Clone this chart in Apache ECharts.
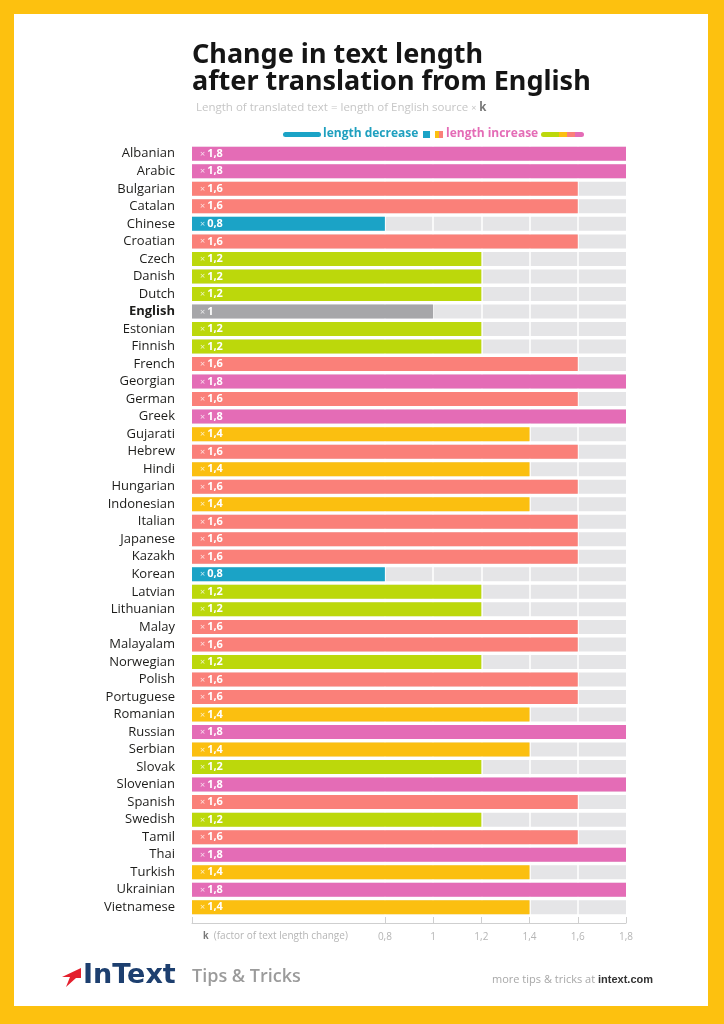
<!DOCTYPE html>
<html>
<head>
<meta charset="utf-8">
<script src="https://cdn.jsdelivr.net/npm/echarts@6/dist/echarts.min.js"></script>
<style>
  html, body { margin: 0; padding: 0; }
  #main { width: 724px; height: 1024px; }
</style>
</head>
<body>
<div id="main"></div>
<script>
// languages, top to bottom
const languages = ['Albanian', 'Arabic', 'Bulgarian', 'Catalan', 'Chinese', 'Croatian', 'Czech', 'Danish', 'Dutch', 'English',
    'Estonian', 'Finnish', 'French', 'Georgian', 'German', 'Greek', 'Gujarati', 'Hebrew', 'Hindi', 'Hungarian',
    'Indonesian', 'Italian', 'Japanese', 'Kazakh', 'Korean', 'Latvian', 'Lithuanian', 'Malay', 'Malayalam', 'Norwegian',
    'Polish', 'Portuguese', 'Romanian', 'Russian', 'Serbian', 'Slovak', 'Slovenian', 'Spanish', 'Swedish', 'Tamil',
    'Thai', 'Turkish', 'Ukrainian', 'Vietnamese'];
// factor k
const factors = [1.8, 1.8, 1.6, 1.6, 0.8, 1.6, 1.2, 1.2, 1.2, 1,
    1.2, 1.2, 1.6, 1.8, 1.6, 1.8, 1.4, 1.6, 1.4, 1.6,
    1.4, 1.6, 1.6, 1.6, 0.8, 1.2, 1.2, 1.6, 1.6, 1.2,
    1.6, 1.6, 1.4, 1.8, 1.4, 1.2, 1.8, 1.6, 1.2, 1.6,
    1.8, 1.4, 1.8, 1.4];
const tickValues = [0, 0.8, 1, 1.2, 1.4, 1.6, 1.8];
const labelValues = [0.8, 1, 1.2, 1.4, 1.6, 1.8];
const axisMax = 1.8;

const colorByFactor = {
    '0.8': '#1ba3c6',
    '1': '#a6a6a9',
    '1.2': '#bcd80b',
    '1.4': '#fbbf10',
    '1.6': '#fa8079',
    '1.8': '#e46cb6'
};
const FONT = '"Open Sans", "Noto Sans", sans-serif';

const fmt = v => String(v).replace('.', ',');

const chart = echarts.init(document.getElementById('main'));

const option = {
    backgroundColor: '#fdc10f',
    animation: false,
    textStyle: { fontFamily: FONT },
    title: [
        {
            text: 'Change in text length\nafter translation from English',
            left: 187, top: 37,
            textStyle: { fontFamily: '"Noto Sans", sans-serif', fontSize: 27, fontWeight: 'bold', color: '#151515', lineHeight: 27 }
        },
        {
            text: 'Length of translated text = length of English source {x|×} {k|k}',
            left: 191, top: 97,
            textStyle: {
                fontFamily: FONT, fontSize: 11.5, fontWeight: 'normal', color: '#c6c6c6',
                rich: {
                    x: { fontSize: 9, color: '#c6c6c6' },
                    k: { fontSize: 11.5, fontWeight: 'bold', color: '#777' }
                }
            }
        }
    ],
    grid: { left: 192, right: 98, top: 145, bottom: 108 },
    xAxis: {
        type: 'value',
        min: 0, max: axisMax, interval: 0.2,
        offset: 7,
        splitLine: { show: false },
        axisLine: { show: true, lineStyle: { color: '#cfcfcf', width: 1 } },
        axisTick: { show: true, inside: true, length: 6, customValues: tickValues, lineStyle: { color: '#cfcfcf' } },
        axisLabel: {
            customValues: labelValues,
            formatter: v => fmt(v),
            color: '#b5b5b5', fontSize: 10, margin: 9, fontFamily: FONT
        }
    },
    yAxis: {
        type: 'category',
        data: languages,
        inverse: true,
        axisLine: { show: false },
        axisTick: { show: false },
        axisLabel: {
            margin: 17,
            color: '#1d1d1b',
            fontSize: 13,
            fontWeight: 500,
            fontFamily: FONT,
            formatter: v => v === 'English' ? '{b|' + v + '}' : v,
            rich: { b: { fontWeight: 'bold', fontSize: 13, color: '#1d1d1b' } }
        }
    },
    series: [
        {
            name: 'background',
            type: 'bar',
            z: 1,
            barWidth: 14,
            barGap: '-100%',
            silent: true,
            itemStyle: { color: '#e5e5e7' },
            data: languages.map(() => axisMax),
            markLine: {
                silent: true,
                z: 2,
                symbol: ['none', 'none'],
                label: { show: false },
                lineStyle: { color: '#ffffff', width: 1.5, type: 'solid' },
                data: labelValues.slice(0, -1).map(v => ({ xAxis: v }))
            }
        },
        {
            name: 'k',
            type: 'bar',
            z: 3,
            barWidth: 14,
            barGap: '-100%',
            data: factors.map(v => ({ value: v, itemStyle: { color: colorByFactor[String(v)] } })),
            label: {
                show: true,
                position: 'insideLeft',
                distance: 8,
                formatter: p => '{x|×}{v|' + fmt(p.value) + '}',
                rich: {
                    x: { color: 'rgba(255,255,255,0.75)', fontSize: 9, padding: [1, 2, 0, 0] },
                    v: { color: '#ffffff', fontSize: 11, fontWeight: 'bold' }
                }
            }
        }
    ],
    graphic: [
        // white page on yellow frame
        { type: 'rect', z: -10, shape: { x: 14, y: 14, width: 694, height: 992 }, style: { fill: '#ffffff' } },
        // legend
        { type: 'rect', shape: { x: 283, y: 132, width: 38, height: 5, r: 2.5 }, style: { fill: '#1ba3c6' } },
        { type: 'text', x: 323, y: 134, style: { text: 'length decrease', fill: '#1fa0bf', font: 'bold 12px ' + FONT, textVerticalAlign: 'middle' } },
        { type: 'rect', shape: { x: 423, y: 131, width: 7, height: 7 }, style: { fill: '#1ba3c6' } },
        { type: 'rect', shape: { x: 435, y: 131, width: 4, height: 7 }, style: { fill: '#fbbf10' } },
        { type: 'rect', shape: { x: 439, y: 131, width: 4, height: 7 }, style: { fill: '#fa8079' } },
        { type: 'text', x: 446, y: 134, style: { text: 'length increase', fill: '#e46cb6', font: 'bold 12px ' + FONT, textVerticalAlign: 'middle' } },
        { type: 'rect', shape: { x: 541, y: 132, width: 18, height: 5, r: [2.5, 0, 0, 2.5] }, style: { fill: '#bcd80b' } },
        { type: 'rect', shape: { x: 559, y: 132, width: 8, height: 5 }, style: { fill: '#fbbf10' } },
        { type: 'rect', shape: { x: 567, y: 132, width: 8, height: 5 }, style: { fill: '#fa8079' } },
        { type: 'rect', shape: { x: 575, y: 132, width: 9, height: 5, r: [0, 2.5, 2.5, 0] }, style: { fill: '#e46cb6' } },
        // axis caption
        {
            type: 'text', x: 203, y: 936,
            style: {
                text: '{k|k}  (factor of text length change)', fill: '#b5b5b5', font: '10px ' + FONT, textVerticalAlign: 'middle',
                rich: { k: { fontWeight: 'bold', fill: '#777', fontSize: 10 } }
            }
        },
        // footer logo
        { type: 'polygon', shape: { points: [[81, 968], [62, 977], [70, 977], [66, 987], [76, 978], [81, 978]] }, style: { fill: '#e41f2d' } },
        { type: 'text', x: 83, y: 976, style: { text: 'InText', fill: '#1d3f6f', font: 'bold 27px "DejaVu Sans", sans-serif', textVerticalAlign: 'middle' } },
        { type: 'text', x: 192, y: 977, style: { text: 'Tips & Tricks', fill: '#9b9b9b', font: '600 18px ' + FONT, textVerticalAlign: 'middle' } },
        {
            type: 'text', x: 653, y: 980,
            style: {
                text: 'more tips & tricks at {b|intext.com}', fill: '#a8a8a8', font: '11px ' + FONT,
                textAlign: 'right', textVerticalAlign: 'middle',
                rich: { b: { fontWeight: 'bold', fill: '#333', fontSize: 11 } }
            }
        }
    ]
};

chart.setOption(option);
</script>
</body>
</html>
